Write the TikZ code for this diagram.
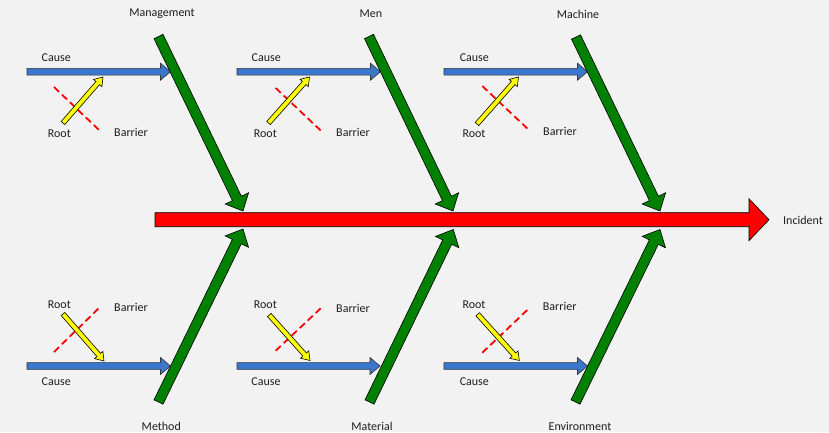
\documentclass[tikz,border=0pt]{standalone}
\usepackage{fontspec}
\setmainfont{Carlito}
\usetikzlibrary{calc}
\definecolor{bgc}{RGB}{242,242,242}
\definecolor{bluec}{RGB}{58,118,204}
\definecolor{greenc}{RGB}{0,128,0}
\definecolor{redc}{RGB}{255,0,0}
\definecolor{yelc}{RGB}{255,255,0}
\definecolor{txtc}{RGB}{30,30,30}
\newcommand{\blockarrow}[6]{%
  \coordinate (#2-h) at ($(#3)!#6!(#2)$);
  \path[#1] ($(#2)!#4!90:(#3)$) -- ($(#2-h)!#4!90:(#3)$) -- ($(#2-h)!#5!90:(#3)$) -- (#3)
    -- ($(#2-h)!#5!-90:(#3)$) -- ($(#2-h)!#4!-90:(#3)$) -- ($(#2)!#4!-90:(#3)$) -- cycle;
}
\tikzset{
  lbl/.style={font=\fontsize{12}{14}\selectfont, text=txtc, inner sep=0pt},
  spinestyle/.style={fill=redc, draw=black, line width=0.6pt, line join=miter},
  bonestyle/.style={fill=greenc, draw=black, line width=0.6pt, line join=miter},
  causestyle/.style={fill=bluec, draw=black!80, line width=0.6pt, line join=miter},
  rootstyle/.style={fill=yelc, draw=black, line width=0.6pt, line join=miter},
  barrierstyle/.style={draw=redc, line width=1.8pt, dash pattern=on 7pt off 4pt}
}
\begin{document}
\begin{tikzpicture}[x=1pt,y=-1pt]
\useasboundingbox (0,0) rectangle (829,432);
\fill[bgc] (0,0) rectangle (829,432);

% spine
\coordinate (spS) at (155,219.7);
\coordinate (spT) at (769,219.7);
\blockarrow{spinestyle}{spS}{spT}{7pt}{21pt}{20pt}
\node[lbl] (inc) at (803,220) {Incident};

% ---------- top bones ----------
\coordinate (g1S) at (158.5,36.5);  \coordinate (g1T) at (243,211);
\coordinate (b1S) at (27,71.7);     \coordinate (b1T) at (170.5,71.7);
\coordinate (y1S) at (63,123);      \coordinate (y1T) at (103,77);
\coordinate (d1S) at (54,87);       \coordinate (d1T) at (99,130);

\coordinate (g2S) at (369,36.5);    \coordinate (g2T) at (453,211);
\coordinate (b2S) at (237,71.7);    \coordinate (b2T) at (380.5,71.7);
\coordinate (y2S) at (268.5,123);   \coordinate (y2T) at (309.5,77);
\coordinate (d2S) at (275.7,88);    \coordinate (d2T) at (320.7,130.5);

\coordinate (g3S) at (576,37);      \coordinate (g3T) at (660,211);
\coordinate (b3S) at (444,71.7);    \coordinate (b3T) at (587.5,71.7);
\coordinate (y3S) at (477,124);     \coordinate (y3T) at (518.5,77);
\coordinate (d3S) at (482.3,86);    \coordinate (d3T) at (527.3,128.5);

% ---------- bottom bones ----------
\coordinate (g4S) at (158.5,402);   \coordinate (g4T) at (243,229);
\coordinate (b4S) at (27,366);      \coordinate (b4T) at (170.5,366);
\coordinate (y4S) at (63,314);      \coordinate (y4T) at (104,361);
\coordinate (d4S) at (54,352);      \coordinate (d4T) at (99,308);

\coordinate (g5S) at (369.5,402);   \coordinate (g5T) at (453.3,229.5);
\coordinate (b5S) at (237,366);     \coordinate (b5T) at (380,366);
\coordinate (y5S) at (269.3,315);   \coordinate (y5T) at (310,360.5);
\coordinate (d5S) at (275.7,350.7); \coordinate (d5T) at (320.7,308.3);

\coordinate (g6S) at (575.5,402);   \coordinate (g6T) at (660,229.5);
\coordinate (b6S) at (444,366);     \coordinate (b6T) at (587.5,366);
\coordinate (y6S) at (477.7,314.3); \coordinate (y6T) at (519.3,360.5);
\coordinate (d6S) at (482.3,352.7); \coordinate (d6T) at (527.3,310);

\foreach \i in {1,...,6}{
  \blockarrow{causestyle}{b\i S}{b\i T}{3.4pt}{8.5pt}{10pt}
}
\foreach \i in {1,...,6}{
  \draw[barrierstyle] (d\i S) -- (d\i T);
}
\foreach \i in {1,...,6}{
  \blockarrow{rootstyle}{y\i S}{y\i T}{2.4pt}{5.5pt}{8pt}
}
\foreach \i in {1,...,6}{
  \blockarrow{bonestyle}{g\i S}{g\i T}{5pt}{13pt}{14pt}
}

% labels top
\node[lbl] (cat1) at (162,14) {Management};
\node[lbl] (cat2) at (371,14) {Men};
\node[lbl] (cat3) at (578,14) {Machine};
\node[lbl] (c1) at (56.3,58) {Cause};
\node[lbl] (c2) at (266.3,58) {Cause};
\node[lbl] (c3) at (474.3,58) {Cause};
\node[lbl] (r1) at (59.3,134) {Root};
\node[lbl] (r2) at (265.3,134) {Root};
\node[lbl] (r3) at (474,134) {Root};
\node[lbl] (ba1) at (131,132) {Barrier};
\node[lbl] (ba2) at (353,132.5) {Barrier};
\node[lbl] (ba3) at (560,131) {Barrier};

% labels bottom
\node[lbl] (cat4) at (161.3,426) {Method};
\node[lbl] (cat5) at (372,426) {Material};
\node[lbl] (cat6) at (580,426) {Environment};
\node[lbl] (c4) at (56.3,382) {Cause};
\node[lbl] (c5) at (266,382) {Cause};
\node[lbl] (c6) at (474.3,382) {Cause};
\node[lbl] (r4) at (59.3,305) {Root};
\node[lbl] (r5) at (265.3,305) {Root};
\node[lbl] (r6) at (474,305) {Root};
\node[lbl] (ba4) at (131,307) {Barrier};
\node[lbl] (ba5) at (353,308) {Barrier};
\node[lbl] (ba6) at (559.7,306) {Barrier};
\end{tikzpicture}
\end{document}
